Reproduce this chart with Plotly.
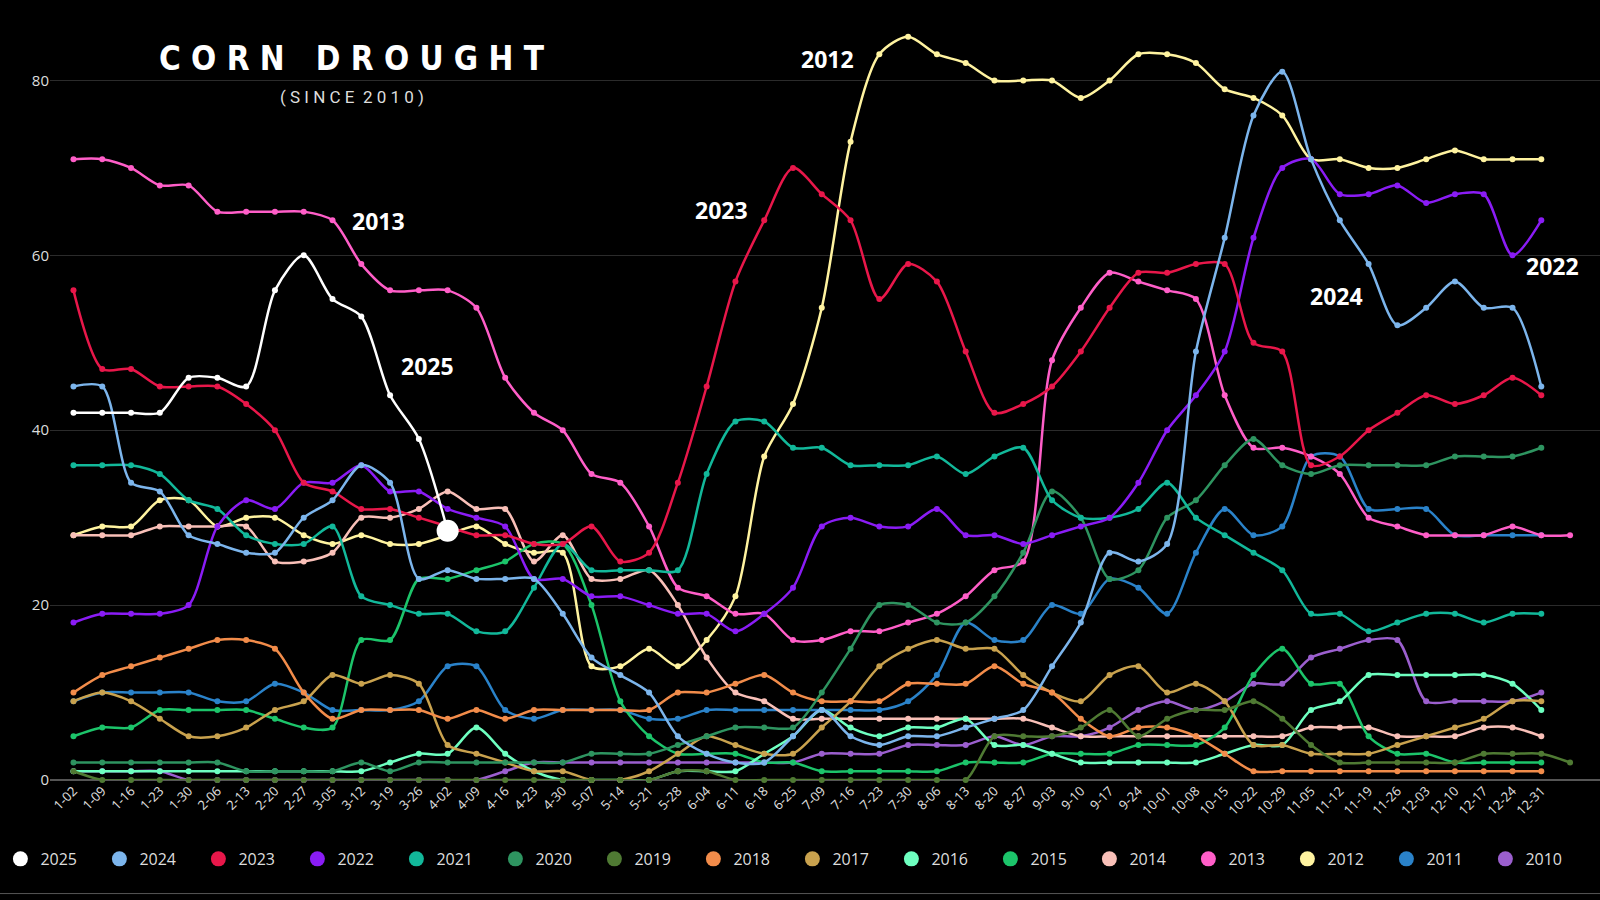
import plotly.graph_objects as go

tick_labels = ["1-02","1-09","1-16","1-23","1-30","2-06","2-13","2-20","2-27","3-05","3-12","3-19","3-26",
               "4-02","4-09","4-16","4-23","4-30","5-07","5-14","5-21","5-28","6-04","6-11","6-18","6-25",
               "7-09","7-16","7-23","7-30","8-06","8-13","8-20","8-27","9-03","9-10","9-17","9-24",
               "10-01","10-08","10-15","10-22","10-29","11-05","11-12","11-19","11-26","12-03","12-10",
               "12-17","12-24","12-31"]

y2025 = [42,42,42,42,46,46,45,56,60,55,53,44,39,28.5]
y2024 = [45,45,34,33,28,27,26,26,30,32,36,34,23,24,23,23,23,19,14,12,10,5,3,2,2,5,8,5,4,5,5,6,7,8,13,18,26,25,27,49,62,76,81,71,64,59,52,54,57,54,54,45]
y2023 = [56,47,47,45,45,45,43,40,34,33,31,31,30,29,28,28,27,27,29,25,26,34,45,57,64,70,67,64,55,59,57,49,42,43,45,49,54,58,58,59,59,50,49,36,37,40,42,44,43,44,46,44]
y2022 = [18,19,19,19,20,29,32,31,34,34,36,33,33,31,30,29,23,23,21,21,20,19,19,17,19,22,29,30,29,29,31,28,28,27,28,29,30,34,40,44,49,62,70,71,67,67,68,66,67,67,60,64]
y2021 = [36,36,36,35,32,31,28,27,27,29,21,20,19,19,17,17,22,27,24,24,24,24,35,41,41,38,38,36,36,36,37,35,37,38,32,30,30,31,34,30,28,26,24,19,19,17,18,19,19,18,19,19]
y2020 = [2,2,2,2,2,2,1,1,1,1,2,1,2,2,2,2,2,2,3,3,3,4,5,6,6,6,10,15,20,20,18,18,21,26,33,30,23,24,30,32,36,39,36,35,36,36,36,36,37,37,37,38]
y2019 = [1,0,0,0,0,0,0,0,0,0,0,0,0,0,0,0,0,0,0,0,0,1,1,0,0,0,0,0,0,0,0,0,5,5,5,6,8,5,7,8,8,9,7,4,2,2,2,2,2,3,3,3,2]
y2018 = [10,12,13,14,15,16,16,15,10,7,8,8,8,7,8,7,8,8,8,8,8,10,10,11,12,10,9,9,9,11,11,11,13,11,10,7,5,6,6,5,3,1,1,1,1,1,1,1,1,1,1,1]
y2017 = [9,10,9,7,5,5,6,8,9,12,11,12,11,4,3,2,1,1,0,0,1,3,5,4,3,3,6,9,13,15,16,15,15,12,10,9,12,13,10,11,9,4,4,3,3,3,4,5,6,7,9,9]
y2016 = [1,1,1,1,1,1,1,1,1,1,1,2,3,3,6,3,1,0,0,0,0,1,1,1,3,5,8,6,5,6,6,7,4,4,3,2,2,2,2,2,3,4,4,8,9,12,12,12,12,12,11,8]
y2015 = [5,6,6,8,8,8,8,7,6,6,16,16,23,23,24,25,27,27,20,9,5,3,3,3,2,2,1,1,1,1,1,2,2,2,3,3,3,4,4,4,6,12,15,11,11,5,3,3,2,2,2,2]
y2014 = [28,28,28,29,29,29,29,25,25,26,30,30,31,33,31,31,25,28,23,23,24,20,14,10,9,7,7,7,7,7,7,7,7,7,6,5,5,5,5,5,5,5,5,6,6,6,5,5,5,6,6,5]
y2013 = [71,71,70,68,68,65,65,65,65,64,59,56,56,56,54,46,42,40,35,34,29,22,21,19,19,16,16,17,17,18,19,21,24,25,48,54,58,57,56,55,44,38,38,37,35,30,29,28,28,28,29,28,28]
y2012 = [28,29,29,32,32,29,30,30,28,27,28,27,27,28,29,27,26,26,13,13,15,13,16,21,37,43,54,73,83,85,83,82,80,80,80,78,80,83,83,82,79,78,76,71,71,70,70,71,72,71,71,71]
y2011 = [9,10,10,10,10,9,9,11,10,8,8,8,9,13,13,8,7,8,8,8,7,7,8,8,8,8,8,8,8,9,12,18,16,16,20,19,23,22,19,26,31,28,29,37,37,31,31,31,28,28,28,28]
y2010 = [1,1,1,1,0,0,0,0,0,0,0,0,0,0,0,1,2,2,2,2,2,2,2,2,2,2,3,3,3,4,4,4,5,4,5,5,6,8,9,8,9,11,11,14,15,16,16,9,9,9,9,10]

series = [
    ("2010", y2010, "#9b5fce"), ("2011", y2011, "#2a82c9"), ("2012", y2012, "#fff3a0"),
    ("2013", y2013, "#ff5ec8"), ("2014", y2014, "#f9c0b8"), ("2015", y2015, "#1cc46a"),
    ("2016", y2016, "#6effc0"), ("2017", y2017, "#c9a24e"), ("2018", y2018, "#f28c4a"),
    ("2019", y2019, "#4f7a33"), ("2020", y2020, "#2e9460"), ("2021", y2021, "#12b89a"),
    ("2022", y2022, "#8a1cf5"), ("2023", y2023, "#e8174a"), ("2024", y2024, "#7cb5ec"),
    ("2025", y2025, "#ffffff"),
]

labels = [("2012", 26.2, 82.5), ("2023", 22.5, 65.2), ("2013", 10.6, 63.9), ("2025", 12.3, 47.4),
          ("2024", 43.9, 55.4), ("2022", 51.4, 58.8)]

fig = go.Figure()
for name, ys, col in series:
    fig.add_trace(go.Scatter(x=list(range(len(ys))), y=ys, mode="lines+markers",
                             line=dict(color=col, width=2.5, shape="spline", smoothing=0.8),
                             marker=dict(color=col, size=6), showlegend=False, cliponaxis=False,
                             hoverinfo="skip"))
for name, ys, col in series:
    fig.add_trace(go.Scatter(x=[None], y=[None], mode="markers", name=name,
                             marker=dict(color=col, size=15)))
fig.add_trace(go.Scatter(x=[len(y2025)-1], y=[y2025[-1]], mode="markers", showlegend=False,
                         marker=dict(color="#ffffff", size=22)))

for t, x, y in labels:
    fig.add_annotation(x=x, y=y, text="<b>"+t+"</b>", showarrow=False, xanchor="center",
                       font=dict(color="white", size=23, family="Open Sans"))

title = "\u00a0".join(list("CORN")) + "\u00a0\u00a0\u00a0" + "\u00a0".join(list("DROUGHT"))
sub = "\u00a0".join(list("(SINCE")) + "\u00a0\u00a0" + "\u00a0".join(list("2010)"))
fig.add_annotation(xref="paper", yref="paper", x=(352-50)/1550, y=1-(59-28)/752, text="<b>"+title+"</b>",
                   showarrow=False, xanchor="center", yanchor="middle",
                   font=dict(color="white", size=33, family="DejaVu Sans Condensed"))
fig.add_annotation(xref="paper", yref="paper", x=(352-50)/1550, y=1-(97-28)/752, text=sub,
                   showarrow=False, xanchor="center", yanchor="middle",
                   font=dict(color="#dddddd", size=17, family="Roboto"))

fig.add_shape(type="line", xref="paper", yref="paper", x0=-0.04, x1=1.0, y0=-0.151, y1=-0.151,
              line=dict(color="#555555", width=1))

fig.update_layout(
    width=1600, height=900, paper_bgcolor="black", plot_bgcolor="black",
    margin=dict(l=50, r=0, t=28, b=120),
    font=dict(family="Open Sans", color="#dddddd"),
    xaxis=dict(range=[-0.816, 53.04], tickvals=list(range(len(tick_labels))), ticktext=tick_labels,
               tickangle=-45, showgrid=False, zeroline=False, showline=False, automargin=False,
               tickfont=dict(size=13, color="#e0e0e0")),
    yaxis=dict(range=[0, 86], tickvals=[0, 20, 40, 60, 80], gridcolor="#2b2b2b", zeroline=True,
               zerolinecolor="#555555", tickfont=dict(size=15, color="#dddddd"), ticklen=0),
    legend=dict(orientation="h", x=-0.032, xanchor="left", y=-0.105, yanchor="middle",
                traceorder="reversed", entrywidth=54, font=dict(size=16, color="#dddddd"),
                itemwidth=30),
)
fig.write_html("out.html", config={"displayModeBar": False},
               post_script="document.body.style.margin='0';document.body.style.background='black';")
